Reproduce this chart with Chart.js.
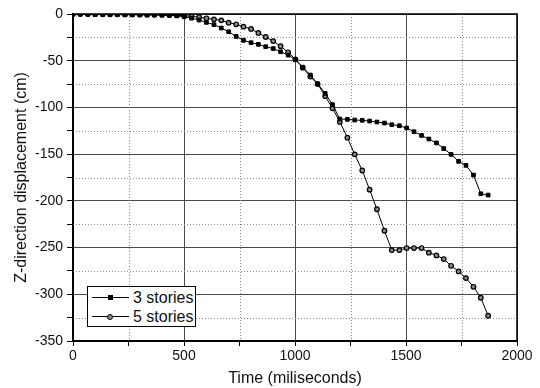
<!DOCTYPE html>
<html>
<head>
<meta charset="utf-8">
<script src="https://cdn.jsdelivr.net/npm/chart.js@4.4.0/dist/chart.umd.min.js"></script>
<style>
  html, body { margin: 0; padding: 0; background: #fff; }
  #wrap { position: relative; width: 540px; height: 388px; }
  #legend {
    position: absolute; left: 87px; top: 286px; width: 107px; height: 39px;
    border: 1px solid #000; background: #fff;
    font-family: "Liberation Sans", Arial, sans-serif; font-size: 16px; color: #111;
  }
  .row { position: relative; height: 19px; line-height: 19px; }
  .sample { position: absolute; left: 4px; top: 9px; width: 37px; height: 1px; background: #000; }
  .mk { position: absolute; left: 16px; top: -2px; width: 5px; height: 5px; background: #000; }
  .mk.circle { border-radius: 50%; width: 4px; height: 4px; background: #888; border: 1px solid #000; left: 15px; top: -2px; }
  .txt { position: absolute; left: 45px; top: 0; }
</style>
</head>
<body>
<div id="wrap">
  <canvas id="c" width="540" height="388"></canvas>
  <div id="legend">
    <div class="row" style="margin-top:1px"><span class="sample"><span class="mk"></span></span><span class="txt">3 stories</span></div>
    <div class="row"><span class="sample"><span class="mk circle"></span></span><span class="txt">5 stories</span></div>
  </div>
</div>
<script>
// time in miliseconds
const times = [0, 33, 67, 100, 134, 167, 200, 234, 267, 301, 334, 367, 401, 434, 468, 501,
  534, 568, 601, 635, 668, 701, 735, 768, 802, 835, 868, 902, 935, 969, 1002, 1035, 1069,
  1102, 1136, 1169, 1202, 1236, 1269, 1303, 1336, 1369, 1403, 1436, 1470, 1503, 1536, 1570,
  1603, 1637, 1670, 1703, 1737, 1770, 1804, 1837, 1870];

// Z-direction displacement (cm)
const threeStories = [0, 0, -0.3, -0.5, -0.5, -0.6, -0.7, -0.8, -0.8, -0.9, -1, -1, -1.2,
  -1.5, -2, -3, -4.5, -6.5, -9, -11.4, -15, -19, -24, -28.2, -30.7, -32.5, -35, -37, -40.4,
  -44, -49, -57, -65.3, -74.6, -85, -97, -112.4, -112.8, -113.5, -113.8, -114.6, -115.6,
  -116.7, -118.5, -119.6, -122, -126, -130, -133.8, -138, -144, -150.2, -157.7, -162,
  -172.4, -192.4, -193.8];

const fiveStories = [0, 0, 0, -0.2, -0.3, -0.3, -0.4, -0.5, -0.5, -0.6, -0.7, -0.8, -0.9,
  -1.0, -1.3, -1.8, -2.5, -3.5, -4.6, -5.7, -6.8, -9.3, -11, -13.6, -16, -20.3, -24.6, -29,
  -34.5, -41, -48.5, -57.5, -67, -75, -88, -101, -115.5, -132.4, -150.2, -167.5, -188, -209,
  -232, -252.7, -252.7, -250.5, -250.5, -250.5, -255.5, -258.4, -262.3, -269.5, -275.5,
  -282.7, -292, -303.7, -323];

const xLabels = [0, 500, 1000, 1500, 2000];
const yLabels = [0, -50, -100, -150, -200, -250, -300, -350];

const toPoints = (ys) => ys.map((y, i) => ({ x: times[i], y: y }));

const minorGrid = {
  id: 'minorGrid',
  beforeDatasetsDraw(chart) {
    const { ctx, chartArea: { top, bottom, left, right }, scales: { x, y } } = chart
    ctx.save()
    ctx.strokeStyle = '#8a8a8a'
    ctx.lineWidth = 1
    ctx.setLineDash([1, 2])
    x.ticks.forEach(t => {
      if (xLabels.includes(t.value)) return
      const px = Math.round(x.getPixelForValue(t.value)) + 0.5
      ctx.beginPath(); ctx.moveTo(px, top); ctx.lineTo(px, bottom); ctx.stroke()
    })
    y.ticks.forEach(t => {
      if (yLabels.includes(t.value)) return
      const py = Math.round(y.getPixelForValue(t.value)) + 0.5
      ctx.beginPath(); ctx.moveTo(left, py); ctx.lineTo(right, py); ctx.stroke()
    })
    ctx.restore()
  }
}

const chartAreaBorder = {
  id: 'chartAreaBorder',
  afterDatasetsDraw(chart) {
    const { ctx, chartArea: { top, left, width, height } } = chart
    ctx.save()
    ctx.strokeStyle = '#000'
    ctx.lineWidth = 1.5
    ctx.strokeRect(left, top, width, height)
    ctx.restore()
  }
}

const tickFont = { family: '"Liberation Sans", Arial, sans-serif', size: 14 };
const titleFont = { family: '"Liberation Sans", Arial, sans-serif', size: 16 };

new Chart(document.getElementById('c'), {
  type: 'line',
  data: {
    datasets: [{
      label: '3 stories',
      data: toPoints(threeStories),
      borderColor: '#000',
      borderWidth: 1,
      pointStyle: 'rect',
      pointRadius: 2.6,
      pointBackgroundColor: '#000',
      pointBorderColor: '#000',
      pointBorderWidth: 1,
      tension: 0
    }, {
      label: '5 stories',
      data: toPoints(fiveStories),
      borderColor: '#000',
      borderWidth: 1,
      pointStyle: 'circle',
      pointRadius: 2.3,
      pointBackgroundColor: '#888',
      pointBorderColor: '#000',
      pointBorderWidth: 1.2,
      tension: 0
    }]
  },
  options: {
    responsive: false,
    animation: false,
    layout: { padding: { top: 14, right: 23, left: 0, bottom: 0 } },
    plugins: {
      legend: { display: false },
      tooltip: { enabled: false }
    },
    scales: {
      x: {
        type: 'linear',
        min: 0,
        max: 2000,
        afterFit(scale) { scale.height = 47 },
        ticks: {
          stepSize: 250,
          color: '#111',
          font: tickFont,
          padding: 2,
          maxRotation: 0,
          autoSkip: false,
          callback: (v) => xLabels.includes(v) ? v : ''
        },
        grid: {
          color: (c) => c.tick && xLabels.includes(c.tick.value) ? '#4a4a4a' : 'rgba(0,0,0,0)',
          tickColor: '#000',
          tickLength: 5,
          lineWidth: 1
        },
        border: { color: '#000', width: 2 },
        title: {
          display: true,
          text: 'Time (miliseconds)',
          color: '#111',
          font: titleFont,
          padding: { top: 0, bottom: 0 }
        }
      },
      y: {
        type: 'linear',
        min: -350,
        max: 0,
        afterFit(scale) { scale.width = 73 },
        ticks: {
          stepSize: 25,
          color: '#111',
          font: tickFont,
          padding: 4,
          autoSkip: false,
          callback: (v) => yLabels.includes(v) ? v : ''
        },
        grid: {
          color: (c) => c.tick && yLabels.includes(c.tick.value) ? '#4a4a4a' : 'rgba(0,0,0,0)',
          tickColor: '#000',
          tickLength: 6,
          lineWidth: 1
        },
        border: { color: '#000', width: 2 },
        title: {
          display: true,
          text: 'Z-direction displacement (cm)',
          color: '#111',
          font: titleFont,
          padding: { top: 12, bottom: 0 }
        }
      }
    }
  },
  plugins: [minorGrid, chartAreaBorder]
});
</script>
</body>
</html>
